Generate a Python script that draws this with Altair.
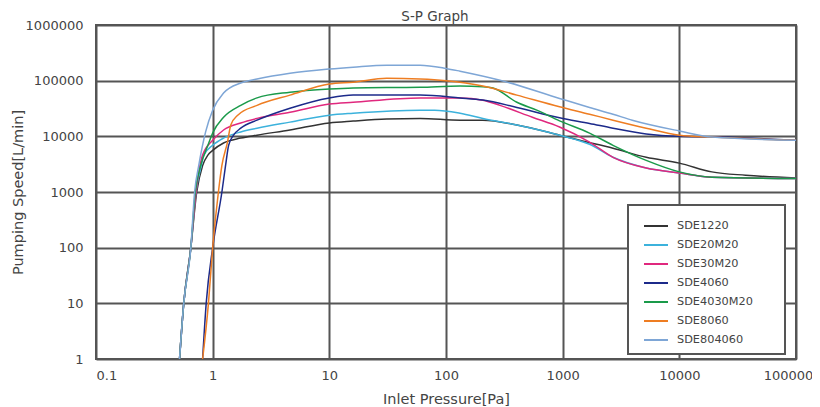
import altair as alt
import pandas as pd

# ---- data ----
series_names = ["SDE1220", "SDE20M20", "SDE30M20", "SDE4060",
                "SDE4030M20", "SDE8060", "SDE804060"]
series_colors = ["#333333", "#3cb2dc", "#e0287e", "#1c2a8a",
                 "#1a9a4a", "#ee7d22", "#7ea6d6"]

sde1220_p = [0.52, 0.565, 0.65, 0.73, 0.82, 0.91, 1.0, 1.24, 1.74, 2.4, 4.6, 10, 16, 31, 60, 132, 207, 405, 940, 1400, 2700, 5200, 10000, 19000, 37000, 100000]
sde1220_s = [1, 10, 100, 1000, 3000, 4600, 5600, 7600, 9300, 10500, 13000, 17400, 18800, 20500, 21000, 19500, 19500, 16000, 10500, 8500, 6100, 4200, 3300, 2300, 2000, 1780]

sde20m20_p = [0.52, 0.565, 0.65, 0.72, 0.8, 0.84, 1.0, 1.24, 1.74, 2.4, 4.6, 10, 16, 60, 80, 132, 207, 405, 940, 1700, 2700, 5200, 10000, 19000, 100000]
sde20m20_s = [1, 10, 100, 1000, 3000, 4600, 6900, 9300, 12000, 14000, 18000, 24000, 26000, 29500, 29500, 26000, 21000, 16000, 10500, 7200, 4200, 2700, 2200, 1850, 1750]

sde30m20_p = [0.52, 0.565, 0.65, 0.72, 0.82, 1.0, 1.24, 1.74, 2.4, 4.6, 10, 16, 60, 132, 207, 290, 550, 940, 1700, 2700, 5200, 10000, 19000, 100000]
sde30m20_s = [1, 10, 100, 1000, 4600, 8500, 13000, 17400, 21000, 27000, 38000, 41000, 49000, 49000, 44500, 36000, 22000, 14700, 7900, 4200, 2700, 2200, 1850, 1750]

sde4060_p = [0.82, 0.88, 1.0, 1.2, 1.29, 1.37, 1.51, 1.74, 2.4, 4.6, 10, 16, 60, 132, 207, 405, 940, 1700, 2700, 5200, 10000, 19000, 100000]
sde4060_s = [1, 10, 100, 1000, 3000, 6900, 10500, 14000, 19500, 32000, 49000, 55000, 55000, 49000, 45000, 33000, 21500, 17000, 14000, 11000, 10000, 9800, 8500]

sde4030m20_p = [0.52, 0.565, 0.65, 0.71, 0.79, 0.91, 1.0, 1.24, 1.74, 2.4, 4.6, 10, 16, 60, 132, 207, 253, 405, 600, 940, 1700, 2700, 5200, 10000, 19000, 100000]
sde4030m20_s = [1, 10, 100, 1000, 3000, 6900, 11500, 22000, 36000, 49000, 62000, 71000, 74000, 76000, 80000, 78000, 74000, 41000, 29500, 19000, 11400, 6900, 3700, 2300, 1850, 1750]

sde8060_p = [0.82, 0.92, 1.0, 1.12, 1.2, 1.34, 1.43, 1.64, 2.4, 4.6, 10, 16, 31, 60, 100, 207, 405, 940, 1700, 2700, 5200, 10000, 19000, 100000]
sde8060_s = [1, 10, 100, 1000, 3000, 7900, 16000, 24000, 36000, 55000, 87000, 94000, 110000, 107000, 100000, 80000, 55000, 34000, 25000, 19500, 14000, 10500, 9700, 8500]

sde804060_p = [0.52, 0.565, 0.65, 0.7, 0.76, 0.87, 1.0, 1.24, 1.74, 2.4, 4.6, 10, 16, 31, 60, 100, 132, 290, 940, 1700, 2700, 3950, 10000, 19000, 100000]
sde804060_s = [1, 10, 100, 1000, 3000, 12000, 29500, 60000, 91000, 107000, 136000, 162000, 175000, 190000, 190000, 166000, 148000, 102000, 48000, 33000, 25000, 19500, 12500, 9700, 8500]

x_ticks = [0.1, 1, 10, 100, 1000, 10000, 100000]
y_ticks = [1, 10, 100, 1000, 10000, 100000, 1000000]

all_p = [sde1220_p, sde20m20_p, sde30m20_p, sde4060_p, sde4030m20_p, sde8060_p, sde804060_p]
all_s = [sde1220_s, sde20m20_s, sde30m20_s, sde4060_s, sde4030m20_s, sde8060_s, sde804060_s]

rows = []
for name, ps, ss in zip(series_names, all_p, all_s):
    for p, s in zip(ps, ss):
        rows.append({"model": name, "pressure": p, "speed": s})
df = pd.DataFrame(rows)

grid_color = "#555555"
text_color = "#444444"

chart = alt.Chart(df).mark_line(strokeWidth=1.5, interpolate="monotone").encode(
    x=alt.X("pressure:Q",
            scale=alt.Scale(type="log", domain=[0.1, 100000], nice=False),
            axis=alt.Axis(values=x_ticks, title="Inlet Pressure[Pa]",
                          labelExpr="datum.value < 0.5 ? '0.1' : format(datum.value, 'd')",
                          labelFlush=False,
                          labelAlign={"condition": {"test": "datum.value < 0.5", "value": "left"}, "value": "center"},
                          labelOffset={"condition": {"test": "datum.value > 50000", "value": -8}, "value": 0},
                          labelPadding=10, titlePadding=10)),
    y=alt.Y("speed:Q",
            scale=alt.Scale(type="log", domain=[1, 1000000], nice=False),
            axis=alt.Axis(values=y_ticks, title="Pumping Speed[L/min]",
                          format="d", labelPadding=13, titlePadding=0)),
    color=alt.Color("model:N",
                    scale=alt.Scale(domain=series_names, range=series_colors),
                    legend=alt.Legend(title=".", titleOrient="right", titleOpacity=0,
                                      titlePadding=19, titleFontSize=11,
                                      orient="none", legendX=532, legendY=180,
                                      symbolType="stroke", symbolSize=576, symbolStrokeWidth=2,
                                      labelFontSize=11.3, labelColor=text_color, labelOffset=8,
                                      padding=8, rowPadding=-7.5, symbolOffset=7,
                                      strokeColor=grid_color, fillColor="white")),
).properties(
    width=700, height=334,
    title=alt.TitleParams("S-P Graph", fontSize=13.5, font="DejaVu Sans", color=text_color,
                          fontWeight="normal", anchor="middle", dx=-11, offset=-4),
    autosize=alt.AutoSizeParams(type="none"),
    padding={"left": 88, "top": 17, "right": 16, "bottom": 48},
).configure(
    font="DejaVu Sans", background="white"
).configure_view(
    stroke=grid_color, strokeWidth=2
).configure_axis(
    grid=True, gridColor=grid_color, gridWidth=2, gridOpacity=1,
    ticks=False, domain=False,
    labelFontSize=13, labelColor=text_color, labelFont="DejaVu Sans",
    titleFontSize=14.5, titleColor=text_color, titleFontWeight="normal", titleFont="DejaVu Sans",
).configure_legend(
    strokeWidth=2
)

chart.save("out.html", embed_options={"renderer": "svg", "actions": False})
